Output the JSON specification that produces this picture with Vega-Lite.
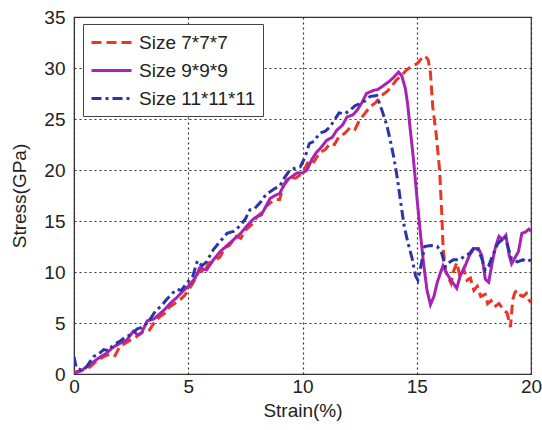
{
  "$schema": "https://vega.github.io/schema/vega-lite/v6.json",
  "width": 457,
  "height": 357,
  "autosize": {"type": "none"},
  "padding": {"left": 74, "top": 17, "right": 11, "bottom": 56},
  "background": "white",
  "config": {
    "font": "Liberation Sans",
    "view": {"stroke": "#333333", "strokeWidth": 1.2},
    "axis": {
      "labelFont": "Liberation Sans",
      "titleFont": "Liberation Sans",
      "labelFontSize": 19,
      "titleFontSize": 19,
      "labelColor": "#222222",
      "titleColor": "#222222",
      "titleFontWeight": "normal",
      "grid": true,
      "gridColor": "#333333",
      "gridDash": [2, 3],
      "gridWidth": 1.2,
      "gridOpacity": 1,
      "domainColor": "#333333",
      "tickSize": 0
    },
    "legend": {
      "labelFont": "Liberation Sans",
      "labelFontSize": 19,
      "labelColor": "#222222"
    }
  },
  "data": {
    "values": [
      {"s":"Size 7*7*7","x":0,"y":0.2},{"s":"Size 7*7*7","x":0.3,"y":0.3},{"s":"Size 7*7*7","x":0.7,"y":0.7},{"s":"Size 7*7*7","x":1.0,"y":1.3},{"s":"Size 7*7*7","x":1.3,"y":1.7},{"s":"Size 7*7*7","x":1.6,"y":2.0},{"s":"Size 7*7*7","x":1.8,"y":1.8},{"s":"Size 7*7*7","x":2.0,"y":2.7},{"s":"Size 7*7*7","x":2.3,"y":3.1},{"s":"Size 7*7*7","x":2.45,"y":3.3},{"s":"Size 7*7*7","x":2.7,"y":3.6},{"s":"Size 7*7*7","x":2.9,"y":4.0},{"s":"Size 7*7*7","x":3.1,"y":4.2},{"s":"Size 7*7*7","x":3.3,"y":4.3},{"s":"Size 7*7*7","x":3.5,"y":5.0},{"s":"Size 7*7*7","x":3.75,"y":5.6},{"s":"Size 7*7*7","x":4.0,"y":6.0},{"s":"Size 7*7*7","x":4.2,"y":6.6},{"s":"Size 7*7*7","x":4.4,"y":6.9},{"s":"Size 7*7*7","x":4.65,"y":7.3},{"s":"Size 7*7*7","x":4.8,"y":7.6},{"s":"Size 7*7*7","x":5.0,"y":8.2},{"s":"Size 7*7*7","x":5.2,"y":8.9},{"s":"Size 7*7*7","x":5.5,"y":10.2},{"s":"Size 7*7*7","x":5.7,"y":10.0},{"s":"Size 7*7*7","x":5.9,"y":10.9},{"s":"Size 7*7*7","x":6.1,"y":11.0},{"s":"Size 7*7*7","x":6.4,"y":11.5},{"s":"Size 7*7*7","x":6.6,"y":12.4},{"s":"Size 7*7*7","x":6.8,"y":12.6},{"s":"Size 7*7*7","x":7.1,"y":13.5},{"s":"Size 7*7*7","x":7.3,"y":13.3},{"s":"Size 7*7*7","x":7.5,"y":14.1},{"s":"Size 7*7*7","x":7.85,"y":14.8},{"s":"Size 7*7*7","x":8.0,"y":15.4},{"s":"Size 7*7*7","x":8.2,"y":15.8},{"s":"Size 7*7*7","x":8.4,"y":16.4},{"s":"Size 7*7*7","x":8.6,"y":16.8},{"s":"Size 7*7*7","x":8.87,"y":17.1},{"s":"Size 7*7*7","x":9.0,"y":17.1},{"s":"Size 7*7*7","x":9.15,"y":18.4},{"s":"Size 7*7*7","x":9.45,"y":19.3},{"s":"Size 7*7*7","x":9.7,"y":19.2},{"s":"Size 7*7*7","x":10.0,"y":19.7},{"s":"Size 7*7*7","x":10.3,"y":21.0},{"s":"Size 7*7*7","x":10.5,"y":20.8},{"s":"Size 7*7*7","x":10.75,"y":21.7},{"s":"Size 7*7*7","x":11.0,"y":22.0},{"s":"Size 7*7*7","x":11.2,"y":22.6},{"s":"Size 7*7*7","x":11.4,"y":22.5},{"s":"Size 7*7*7","x":11.6,"y":23.3},{"s":"Size 7*7*7","x":11.85,"y":23.6},{"s":"Size 7*7*7","x":12.1,"y":24.2},{"s":"Size 7*7*7","x":12.3,"y":24.0},{"s":"Size 7*7*7","x":12.5,"y":24.9},{"s":"Size 7*7*7","x":12.75,"y":25.6},{"s":"Size 7*7*7","x":12.95,"y":26.2},{"s":"Size 7*7*7","x":13.2,"y":26.6},{"s":"Size 7*7*7","x":13.4,"y":27.2},{"s":"Size 7*7*7","x":13.7,"y":27.7},{"s":"Size 7*7*7","x":13.9,"y":28.2},{"s":"Size 7*7*7","x":14.1,"y":28.8},{"s":"Size 7*7*7","x":14.3,"y":29.2},{"s":"Size 7*7*7","x":14.55,"y":29.8},{"s":"Size 7*7*7","x":14.8,"y":30.2},{"s":"Size 7*7*7","x":15.0,"y":30.4},{"s":"Size 7*7*7","x":15.2,"y":30.9},{"s":"Size 7*7*7","x":15.36,"y":31.2},{"s":"Size 7*7*7","x":15.5,"y":30.8},{"s":"Size 7*7*7","x":15.6,"y":29.5},{"s":"Size 7*7*7","x":15.7,"y":26.2},{"s":"Size 7*7*7","x":15.85,"y":23.5},{"s":"Size 7*7*7","x":16.0,"y":20.0},{"s":"Size 7*7*7","x":16.1,"y":15.5},{"s":"Size 7*7*7","x":16.15,"y":12.5},{"s":"Size 7*7*7","x":16.25,"y":10.2},{"s":"Size 7*7*7","x":16.35,"y":9.6},{"s":"Size 7*7*7","x":16.5,"y":8.9},{"s":"Size 7*7*7","x":16.6,"y":10.0},{"s":"Size 7*7*7","x":16.75,"y":10.9},{"s":"Size 7*7*7","x":16.9,"y":9.5},{"s":"Size 7*7*7","x":17.05,"y":10.3},{"s":"Size 7*7*7","x":17.2,"y":9.2},{"s":"Size 7*7*7","x":17.35,"y":9.4},{"s":"Size 7*7*7","x":17.5,"y":8.2},{"s":"Size 7*7*7","x":17.65,"y":8.6},{"s":"Size 7*7*7","x":17.8,"y":7.6},{"s":"Size 7*7*7","x":18.0,"y":7.8},{"s":"Size 7*7*7","x":18.1,"y":6.9},{"s":"Size 7*7*7","x":18.25,"y":7.2},{"s":"Size 7*7*7","x":18.4,"y":6.6},{"s":"Size 7*7*7","x":18.6,"y":6.9},{"s":"Size 7*7*7","x":18.8,"y":6.3},{"s":"Size 7*7*7","x":18.95,"y":6.0},{"s":"Size 7*7*7","x":19.1,"y":4.6},{"s":"Size 7*7*7","x":19.2,"y":7.3},{"s":"Size 7*7*7","x":19.3,"y":8.0},{"s":"Size 7*7*7","x":19.4,"y":8.2},{"s":"Size 7*7*7","x":19.55,"y":7.7},{"s":"Size 7*7*7","x":19.65,"y":7.6},{"s":"Size 7*7*7","x":19.8,"y":7.9},{"s":"Size 7*7*7","x":19.9,"y":7.3},{"s":"Size 7*7*7","x":20.0,"y":7.0},

      {"s":"Size 9*9*9","x":0,"y":0.1},{"s":"Size 9*9*9","x":0.2,"y":0.2},{"s":"Size 9*9*9","x":0.5,"y":0.6},{"s":"Size 9*9*9","x":0.8,"y":1.1},{"s":"Size 9*9*9","x":1.1,"y":1.6},{"s":"Size 9*9*9","x":1.4,"y":2.0},{"s":"Size 9*9*9","x":1.7,"y":2.6},{"s":"Size 9*9*9","x":2.0,"y":3.0},{"s":"Size 9*9*9","x":2.3,"y":3.3},{"s":"Size 9*9*9","x":2.6,"y":4.2},{"s":"Size 9*9*9","x":2.8,"y":3.8},{"s":"Size 9*9*9","x":2.95,"y":4.0},{"s":"Size 9*9*9","x":3.2,"y":5.2},{"s":"Size 9*9*9","x":3.5,"y":5.4},{"s":"Size 9*9*9","x":3.8,"y":6.0},{"s":"Size 9*9*9","x":4.0,"y":6.4},{"s":"Size 9*9*9","x":4.2,"y":6.9},{"s":"Size 9*9*9","x":4.5,"y":7.5},{"s":"Size 9*9*9","x":4.8,"y":8.2},{"s":"Size 9*9*9","x":5.0,"y":8.6},{"s":"Size 9*9*9","x":5.3,"y":9.4},{"s":"Size 9*9*9","x":5.5,"y":10.4},{"s":"Size 9*9*9","x":5.8,"y":10.2},{"s":"Size 9*9*9","x":6.1,"y":11.2},{"s":"Size 9*9*9","x":6.4,"y":12.0},{"s":"Size 9*9*9","x":6.7,"y":12.6},{"s":"Size 9*9*9","x":7.0,"y":13.2},{"s":"Size 9*9*9","x":7.3,"y":13.8},{"s":"Size 9*9*9","x":7.6,"y":14.6},{"s":"Size 9*9*9","x":7.9,"y":15.3},{"s":"Size 9*9*9","x":8.2,"y":15.6},{"s":"Size 9*9*9","x":8.58,"y":17.2},{"s":"Size 9*9*9","x":8.8,"y":17.5},{"s":"Size 9*9*9","x":9.0,"y":17.7},{"s":"Size 9*9*9","x":9.3,"y":19.0},{"s":"Size 9*9*9","x":9.5,"y":19.3},{"s":"Size 9*9*9","x":9.75,"y":19.7},{"s":"Size 9*9*9","x":10.0,"y":19.7},{"s":"Size 9*9*9","x":10.2,"y":20.0},{"s":"Size 9*9*9","x":10.4,"y":21.0},{"s":"Size 9*9*9","x":10.6,"y":21.7},{"s":"Size 9*9*9","x":10.85,"y":22.3},{"s":"Size 9*9*9","x":11.05,"y":22.9},{"s":"Size 9*9*9","x":11.3,"y":23.2},{"s":"Size 9*9*9","x":11.5,"y":23.9},{"s":"Size 9*9*9","x":11.75,"y":24.4},{"s":"Size 9*9*9","x":11.95,"y":25.2},{"s":"Size 9*9*9","x":12.2,"y":25.4},{"s":"Size 9*9*9","x":12.4,"y":25.9},{"s":"Size 9*9*9","x":12.6,"y":26.6},{"s":"Size 9*9*9","x":12.8,"y":27.5},{"s":"Size 9*9*9","x":13.1,"y":27.8},{"s":"Size 9*9*9","x":13.3,"y":27.9},{"s":"Size 9*9*9","x":13.5,"y":28.2},{"s":"Size 9*9*9","x":13.8,"y":28.7},{"s":"Size 9*9*9","x":14.0,"y":29.1},{"s":"Size 9*9*9","x":14.2,"y":29.6},{"s":"Size 9*9*9","x":14.35,"y":29.2},{"s":"Size 9*9*9","x":14.5,"y":28.0},{"s":"Size 9*9*9","x":14.6,"y":26.5},{"s":"Size 9*9*9","x":14.7,"y":24.3},{"s":"Size 9*9*9","x":14.85,"y":21.2},{"s":"Size 9*9*9","x":15.0,"y":17.5},{"s":"Size 9*9*9","x":15.15,"y":14.0},{"s":"Size 9*9*9","x":15.3,"y":10.8},{"s":"Size 9*9*9","x":15.45,"y":8.2},{"s":"Size 9*9*9","x":15.6,"y":6.8},{"s":"Size 9*9*9","x":15.75,"y":7.6},{"s":"Size 9*9*9","x":15.9,"y":9.0},{"s":"Size 9*9*9","x":16.05,"y":10.0},{"s":"Size 9*9*9","x":16.15,"y":10.6},{"s":"Size 9*9*9","x":16.3,"y":9.9},{"s":"Size 9*9*9","x":16.5,"y":9.2},{"s":"Size 9*9*9","x":16.75,"y":8.4},{"s":"Size 9*9*9","x":16.9,"y":9.6},{"s":"Size 9*9*9","x":17.1,"y":10.5},{"s":"Size 9*9*9","x":17.3,"y":11.6},{"s":"Size 9*9*9","x":17.5,"y":12.3},{"s":"Size 9*9*9","x":17.7,"y":12.3},{"s":"Size 9*9*9","x":17.85,"y":11.6},{"s":"Size 9*9*9","x":18.0,"y":9.3},{"s":"Size 9*9*9","x":18.15,"y":9.0},{"s":"Size 9*9*9","x":18.3,"y":10.9},{"s":"Size 9*9*9","x":18.45,"y":12.5},{"s":"Size 9*9*9","x":18.6,"y":13.5},{"s":"Size 9*9*9","x":18.75,"y":13.2},{"s":"Size 9*9*9","x":18.9,"y":13.6},{"s":"Size 9*9*9","x":19.05,"y":11.6},{"s":"Size 9*9*9","x":19.15,"y":10.8},{"s":"Size 9*9*9","x":19.3,"y":11.4},{"s":"Size 9*9*9","x":19.45,"y":12.0},{"s":"Size 9*9*9","x":19.6,"y":13.8},{"s":"Size 9*9*9","x":19.75,"y":13.9},{"s":"Size 9*9*9","x":19.9,"y":14.2},{"s":"Size 9*9*9","x":20.0,"y":14.0},

      {"s":"Size 11*11*11","x":0,"y":1.7},{"s":"Size 11*11*11","x":0.1,"y":0.6},{"s":"Size 11*11*11","x":0.3,"y":0.4},{"s":"Size 11*11*11","x":0.55,"y":0.7},{"s":"Size 11*11*11","x":0.85,"y":1.7},{"s":"Size 11*11*11","x":1.1,"y":2.0},{"s":"Size 11*11*11","x":1.3,"y":2.4},{"s":"Size 11*11*11","x":1.5,"y":2.3},{"s":"Size 11*11*11","x":1.7,"y":2.8},{"s":"Size 11*11*11","x":2.0,"y":3.2},{"s":"Size 11*11*11","x":2.3,"y":3.7},{"s":"Size 11*11*11","x":2.55,"y":3.9},{"s":"Size 11*11*11","x":2.75,"y":4.4},{"s":"Size 11*11*11","x":3.0,"y":4.6},{"s":"Size 11*11*11","x":3.2,"y":5.0},{"s":"Size 11*11*11","x":3.4,"y":5.6},{"s":"Size 11*11*11","x":3.6,"y":6.3},{"s":"Size 11*11*11","x":3.8,"y":6.6},{"s":"Size 11*11*11","x":4.05,"y":7.3},{"s":"Size 11*11*11","x":4.3,"y":7.9},{"s":"Size 11*11*11","x":4.5,"y":8.3},{"s":"Size 11*11*11","x":4.7,"y":8.2},{"s":"Size 11*11*11","x":4.93,"y":8.9},{"s":"Size 11*11*11","x":5.2,"y":9.6},{"s":"Size 11*11*11","x":5.4,"y":11.1},{"s":"Size 11*11*11","x":5.6,"y":10.6},{"s":"Size 11*11*11","x":5.8,"y":11.0},{"s":"Size 11*11*11","x":6.1,"y":12.2},{"s":"Size 11*11*11","x":6.4,"y":13.0},{"s":"Size 11*11*11","x":6.7,"y":13.8},{"s":"Size 11*11*11","x":7.0,"y":14.0},{"s":"Size 11*11*11","x":7.25,"y":14.5},{"s":"Size 11*11*11","x":7.5,"y":15.2},{"s":"Size 11*11*11","x":7.7,"y":16.1},{"s":"Size 11*11*11","x":7.9,"y":16.2},{"s":"Size 11*11*11","x":8.15,"y":16.8},{"s":"Size 11*11*11","x":8.4,"y":17.6},{"s":"Size 11*11*11","x":8.6,"y":17.9},{"s":"Size 11*11*11","x":8.8,"y":18.2},{"s":"Size 11*11*11","x":9.0,"y":18.4},{"s":"Size 11*11*11","x":9.2,"y":19.2},{"s":"Size 11*11*11","x":9.45,"y":20.0},{"s":"Size 11*11*11","x":9.7,"y":20.2},{"s":"Size 11*11*11","x":9.9,"y":20.3},{"s":"Size 11*11*11","x":10.1,"y":21.2},{"s":"Size 11*11*11","x":10.3,"y":22.6},{"s":"Size 11*11*11","x":10.5,"y":22.8},{"s":"Size 11*11*11","x":10.75,"y":23.6},{"s":"Size 11*11*11","x":11.0,"y":23.8},{"s":"Size 11*11*11","x":11.2,"y":24.2},{"s":"Size 11*11*11","x":11.4,"y":24.9},{"s":"Size 11*11*11","x":11.6,"y":25.6},{"s":"Size 11*11*11","x":11.85,"y":25.5},{"s":"Size 11*11*11","x":12.1,"y":25.9},{"s":"Size 11*11*11","x":12.3,"y":26.3},{"s":"Size 11*11*11","x":12.5,"y":26.5},{"s":"Size 11*11*11","x":12.75,"y":26.8},{"s":"Size 11*11*11","x":12.95,"y":27.2},{"s":"Size 11*11*11","x":13.25,"y":27.3},{"s":"Size 11*11*11","x":13.5,"y":25.7},{"s":"Size 11*11*11","x":13.7,"y":24.3},{"s":"Size 11*11*11","x":13.85,"y":22.8},{"s":"Size 11*11*11","x":14.0,"y":21.2},{"s":"Size 11*11*11","x":14.15,"y":19.2},{"s":"Size 11*11*11","x":14.3,"y":16.8},{"s":"Size 11*11*11","x":14.45,"y":14.5},{"s":"Size 11*11*11","x":14.6,"y":13.0},{"s":"Size 11*11*11","x":14.8,"y":11.3},{"s":"Size 11*11*11","x":14.95,"y":9.6},{"s":"Size 11*11*11","x":15.05,"y":9.2},{"s":"Size 11*11*11","x":15.2,"y":10.8},{"s":"Size 11*11*11","x":15.35,"y":12.5},{"s":"Size 11*11*11","x":15.6,"y":12.6},{"s":"Size 11*11*11","x":15.9,"y":12.5},{"s":"Size 11*11*11","x":16.1,"y":11.8},{"s":"Size 11*11*11","x":16.25,"y":10.5},{"s":"Size 11*11*11","x":16.4,"y":10.9},{"s":"Size 11*11*11","x":16.6,"y":11.2},{"s":"Size 11*11*11","x":16.9,"y":11.2},{"s":"Size 11*11*11","x":17.1,"y":11.6},{"s":"Size 11*11*11","x":17.3,"y":11.8},{"s":"Size 11*11*11","x":17.55,"y":12.5},{"s":"Size 11*11*11","x":17.7,"y":12.1},{"s":"Size 11*11*11","x":17.85,"y":11.3},{"s":"Size 11*11*11","x":18.0,"y":10.2},{"s":"Size 11*11*11","x":18.15,"y":10.6},{"s":"Size 11*11*11","x":18.3,"y":11.5},{"s":"Size 11*11*11","x":18.55,"y":12.8},{"s":"Size 11*11*11","x":18.7,"y":13.1},{"s":"Size 11*11*11","x":18.85,"y":13.5},{"s":"Size 11*11*11","x":19.0,"y":12.4},{"s":"Size 11*11*11","x":19.15,"y":11.3},{"s":"Size 11*11*11","x":19.4,"y":11.0},{"s":"Size 11*11*11","x":19.65,"y":11.2},{"s":"Size 11*11*11","x":19.8,"y":11.0},{"s":"Size 11*11*11","x":20.0,"y":11.2}
    ]
  },
  "mark": {"type": "line", "strokeWidth": 3, "clip": true},
  "encoding": {
    "x": {
      "field": "x", "type": "quantitative",
      "scale": {"domain": [0, 20], "nice": false},
      "axis": {"values": [0, 5, 10, 15, 20], "title": "Strain(%)", "titlePadding": 5, "labelPadding": 3, "grid": true, "gridDash": [2, 3], "labelFlush": false}
    },
    "y": {
      "field": "y", "type": "quantitative",
      "scale": {"domain": [0, 35], "nice": false},
      "axis": {"values": [0, 5, 10, 15, 20, 25, 30, 35], "title": "Stress(GPa)", "titlePadding": 14, "labelPadding": 9, "grid": true, "gridDash": [2, 3], "labelFlush": false}
    },
    "color": {
      "field": "s", "type": "nominal",
      "scale": {"domain": ["Size 7*7*7", "Size 9*9*9", "Size 11*11*11"], "range": ["#ee3524", "#a822b4", "#2a36a6"]},
      "legend": {
        "title": null,
        "orient": "none",
        "legendX": 9,
        "legendY": 7,
        "symbolType": "M-1,0H3",
        "symbolSize": 400,
        "symbolStrokeWidth": 3,
        "labelOffset": 26,
        "rowPadding": 6,
        "padding": 7,
        "strokeColor": "#444444",
        "fillColor": "white",
        "cornerRadius": 0
      }
    },
    "strokeDash": {
      "field": "s", "type": "nominal",
      "scale": {"domain": ["Size 7*7*7", "Size 9*9*9", "Size 11*11*11"], "range": [[10, 5], [1, 0], [10, 4, 3, 4]]},
      "legend": {
        "title": null,
        "orient": "none",
        "legendX": 9,
        "legendY": 7,
        "symbolType": "M-1,0H3",
        "symbolSize": 400,
        "symbolStrokeWidth": 3,
        "labelOffset": 26,
        "rowPadding": 6,
        "padding": 7,
        "strokeColor": "#444444",
        "fillColor": "white",
        "cornerRadius": 0
      }
    }
  }
}
